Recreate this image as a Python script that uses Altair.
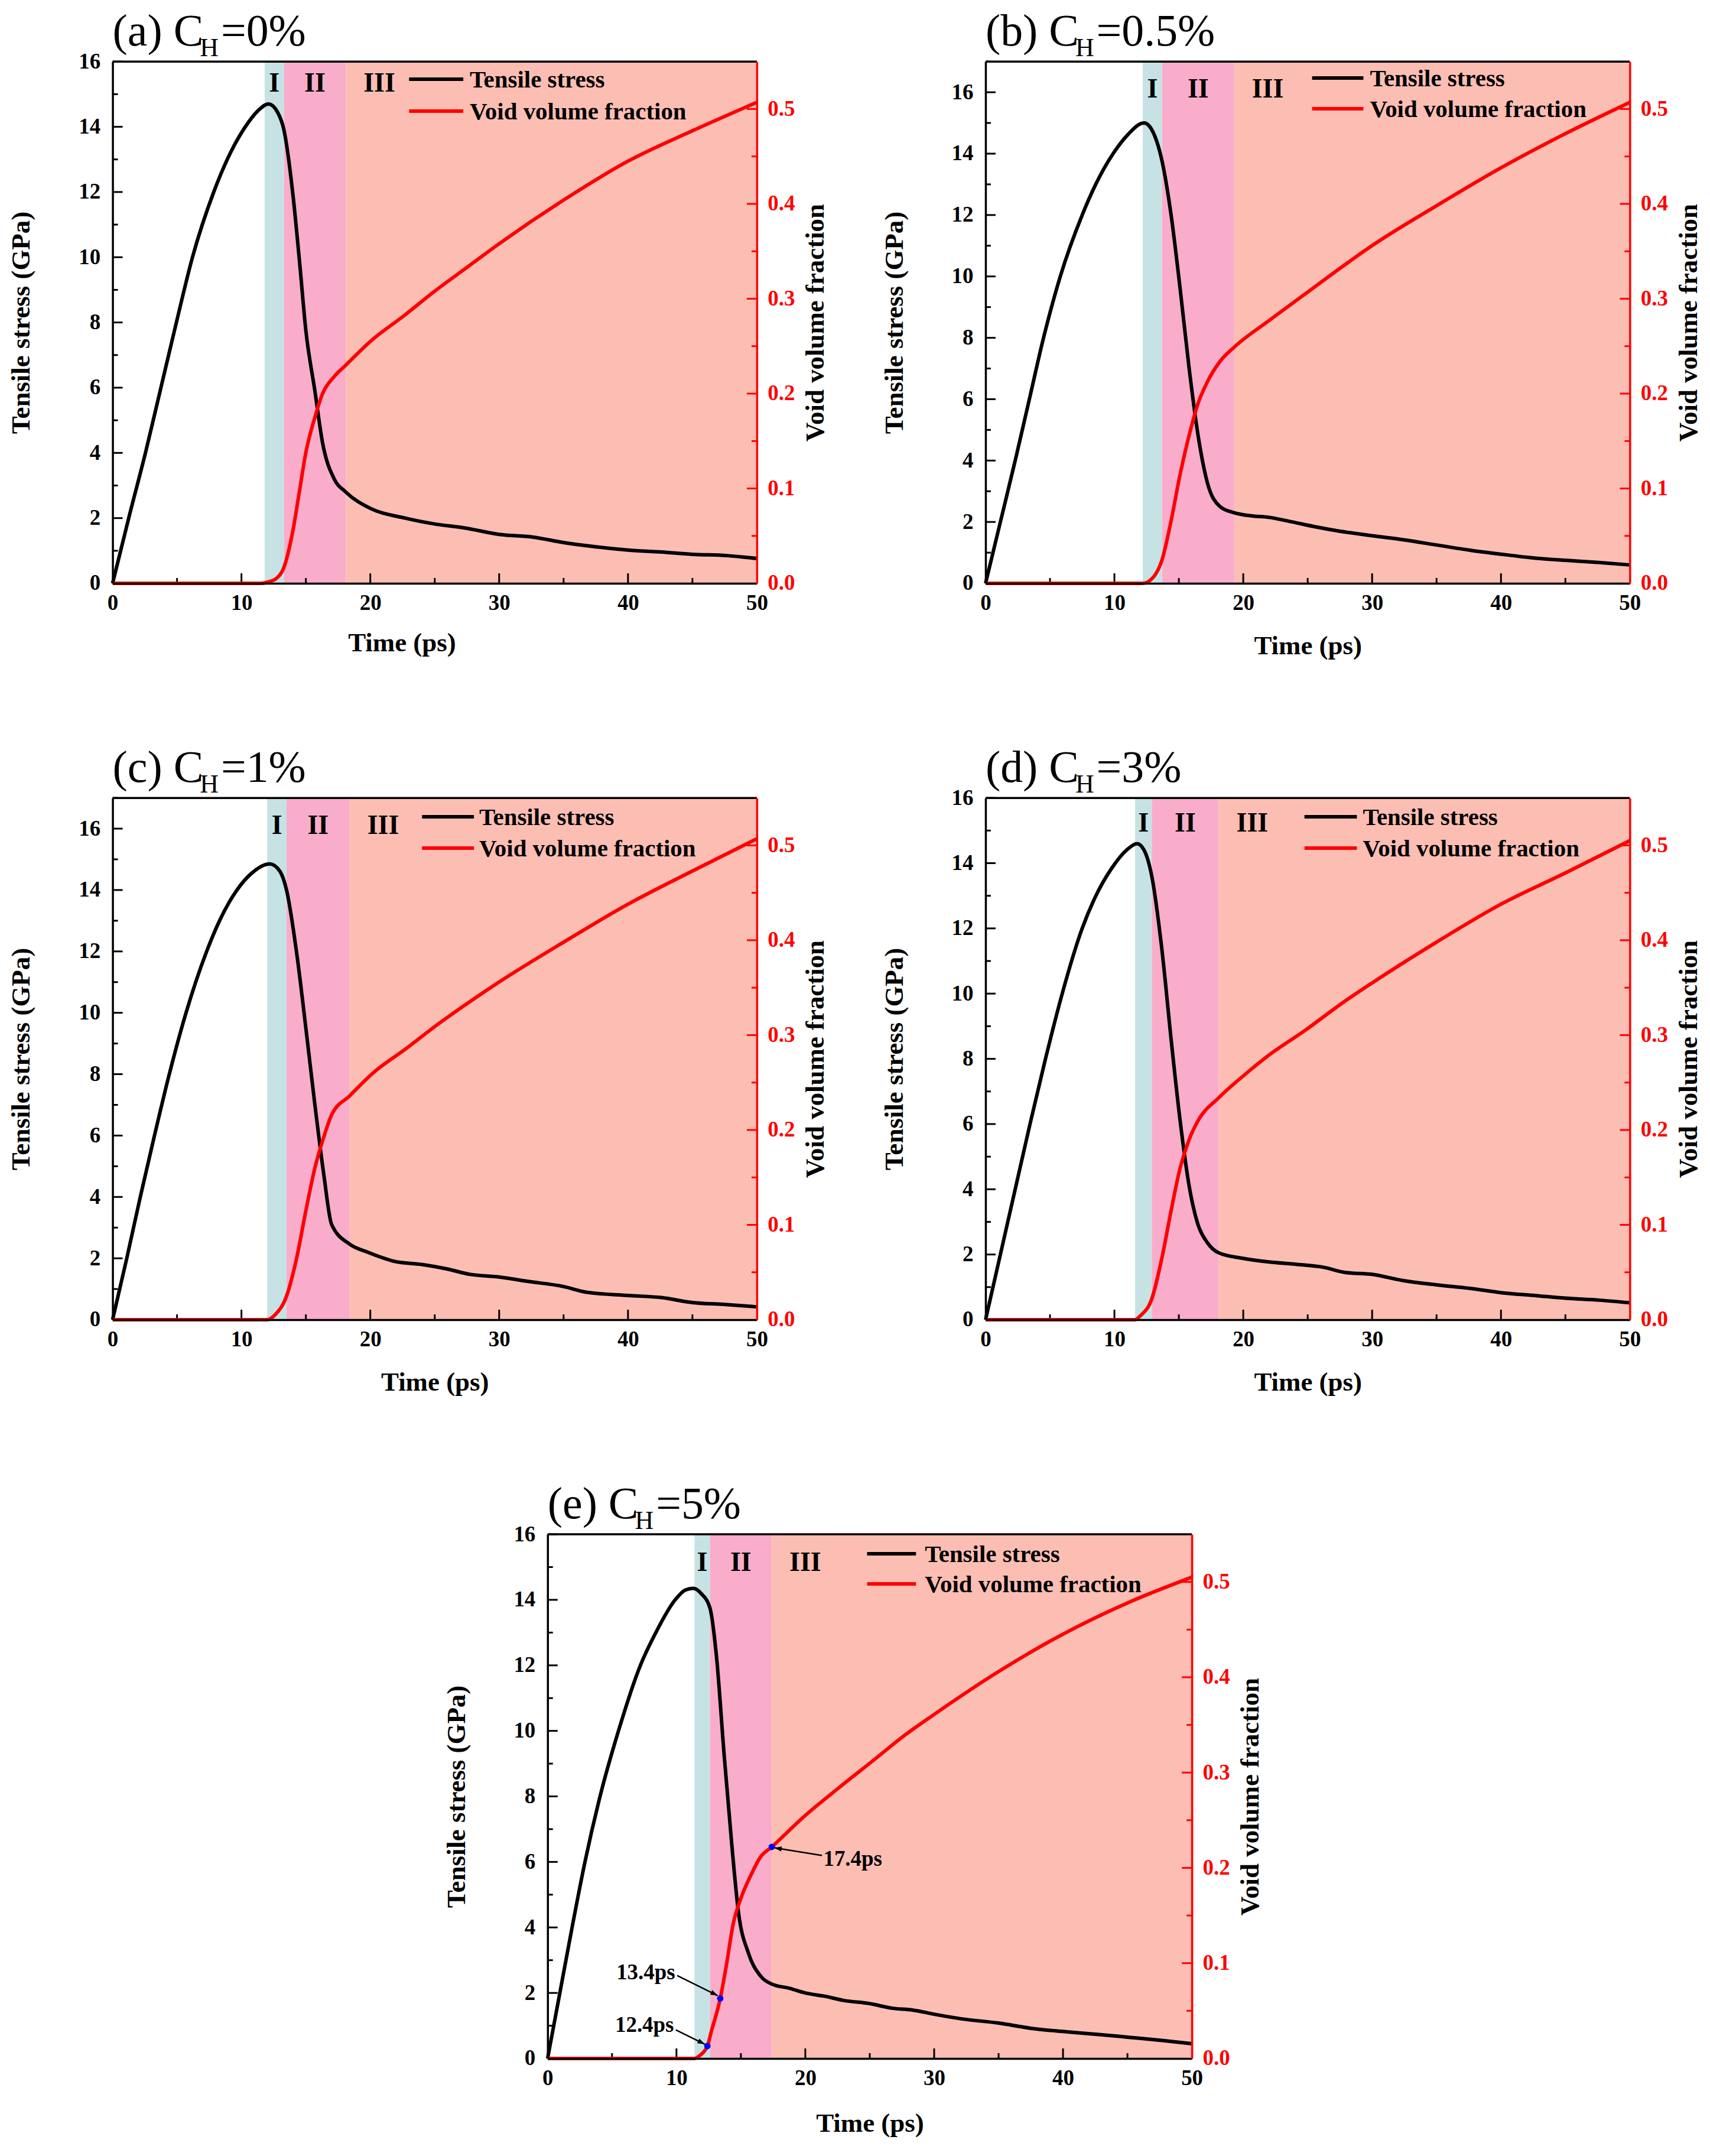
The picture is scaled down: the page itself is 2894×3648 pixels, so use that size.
import math
import altair as alt
import pandas as pd

FONT = "Liberation Serif"

# ---------------- data ----------------
letters = ["a", "b", "c", "d", "e"]
conc = ["0", "0.5", "1", "3", "5"]

# stage boundaries (ps): start of I, start of II, start of III
bands = {
    "a": [11.8, 13.3, 18.1],
    "b": [12.2, 13.7, 19.3],
    "c": [12.0, 13.5, 18.4],
    "d": [11.6, 12.9, 18.1],
    "e": [11.4, 12.6, 17.4],
}

a_t = [0, 1.25, 2.55, 3.75, 4.95, 6.2, 7.85, 8.9, 10.3, 11.3, 12.1, 12.8, 13.3, 14.0, 14.5, 15.0, 15.7, 16.3, 17.2, 18.1, 20, 22.7, 25, 27.3, 30, 32.6, 35, 37.5, 40, 42.6, 45, 47.7, 50]
a_s = [0, 2, 4, 6, 8, 10, 12, 13, 14, 14.5, 14.7, 14.45, 13.9, 11.9, 9.9, 7.75, 5.9, 4.3, 3.2, 2.8, 2.3, 2.0, 1.82, 1.7, 1.5, 1.42, 1.25, 1.12, 1.02, 0.96, 0.89, 0.85, 0.76]
a_vt = [0, 11.5, 12.2, 12.7, 13.3, 14.0, 14.5, 15.0, 15.7, 16.3, 17.2, 18.1, 20, 22.7, 25, 27.3, 30, 35, 40, 45, 50]
a_v = [0, 0, 0.002, 0.005, 0.017, 0.056, 0.097, 0.138, 0.175, 0.2, 0.218, 0.23, 0.255, 0.283, 0.308, 0.331, 0.358, 0.404, 0.445, 0.477, 0.507]

b_t = [0, 1.15, 2.3, 3.4, 4.5, 5.8, 7.5, 8.55, 9.9, 11.0, 12.3, 13.0, 13.7, 14.4, 15.1, 15.8, 16.5, 17.2, 18.2, 19.3, 20.6, 22, 23.8, 25.5, 27.2, 30, 32.4, 35, 37.6, 40, 42.7, 45, 47.6, 50]
b_s = [0, 2, 4, 6, 8, 10, 12, 13, 14, 14.6, 15.0, 14.7, 13.75, 12.0, 9.6, 7.0, 4.8, 3.3, 2.5, 2.3, 2.2, 2.15, 2.0, 1.85, 1.72, 1.55, 1.42, 1.25, 1.08, 0.95, 0.82, 0.75, 0.68, 0.6]
b_vt = [0, 12.2, 13.05, 13.7, 14.4, 15.1, 15.8, 16.5, 17.2, 18.2, 19.3, 22, 24.8, 27.6, 30, 35, 40, 45, 50]
b_v = [0, 0, 0.007, 0.025, 0.066, 0.115, 0.156, 0.19, 0.212, 0.234, 0.249, 0.277, 0.305, 0.333, 0.356, 0.398, 0.438, 0.474, 0.507]

c_t = [0, 1.1, 2.15, 3.25, 4.4, 5.7, 7.3, 8.3, 9.65, 10.8, 12.2, 13.0, 13.5, 14.3, 15.0, 15.7, 16.4, 17.0, 18.4, 19.8, 21.9, 24, 26, 27.7, 30, 32.2, 35, 36.7, 40, 42.6, 45, 47.4, 50]
c_s = [0, 2, 4, 6, 8, 10, 12, 13, 14, 14.55, 14.85, 14.6, 14.0, 11.9, 9.5, 7.0, 4.7, 3.1, 2.46, 2.2, 1.9, 1.8, 1.65, 1.48, 1.39, 1.25, 1.08, 0.9, 0.79, 0.72, 0.56, 0.5, 0.42]
c_vt = [0, 12.0, 12.6, 13.5, 14.3, 15.0, 15.7, 16.4, 17.0, 18.4, 20.2, 22.7, 25.3, 27.7, 30, 35, 40, 45, 50]
c_v = [0, 0, 0.005, 0.025, 0.066, 0.115, 0.16, 0.193, 0.216, 0.236, 0.26, 0.285, 0.312, 0.335, 0.356, 0.398, 0.438, 0.473, 0.507]

d_t = [0, 1.15, 2.3, 3.45, 4.65, 5.95, 7.5, 8.5, 9.8, 11.0, 11.75, 12.3, 12.9, 13.7, 14.4, 15.1, 15.8, 16.5, 17.2, 18.1, 20, 22, 24.1, 26.2, 27.9, 30, 32.4, 35, 37.6, 40, 42.7, 45, 47.6, 50]
d_s = [0, 2, 4, 6, 8, 10, 12, 12.95, 13.85, 14.42, 14.6, 14.4, 13.6, 11.3, 8.6, 6.1, 4.1, 2.9, 2.37, 2.05, 1.88, 1.77, 1.7, 1.61, 1.45, 1.39, 1.2, 1.07, 0.96, 0.83, 0.74, 0.66, 0.6, 0.52]
d_vt = [0, 11.6, 12.0, 12.9, 13.7, 14.4, 15.1, 15.8, 16.5, 18.1, 20, 22, 24.8, 27.6, 30, 35, 40, 45, 50]
d_v = [0, 0, 0.004, 0.022, 0.066, 0.115, 0.16, 0.19, 0.21, 0.234, 0.257, 0.279, 0.305, 0.333, 0.355, 0.398, 0.438, 0.471, 0.505]

e_t = [0, 0.95, 1.9, 2.9, 4.07, 5.5, 7.2, 8.4, 9.9, 10.7, 11.3, 11.9, 12.6, 13.1, 13.7, 14.3, 14.8, 15.6, 16.5, 17.4, 18.8, 20, 21.5, 23, 24.9, 26.8, 28.3, 30, 32.1, 35, 37.5, 40.1, 42.8, 45, 47.7, 50]
e_s = [0, 2, 4, 6, 8, 10, 12, 13, 14, 14.3, 14.35, 14.2, 13.75, 12.3, 9.27, 6.5, 4.5, 3.2, 2.53, 2.27, 2.14, 2.0, 1.9, 1.77, 1.68, 1.53, 1.48, 1.35, 1.21, 1.08, 0.92, 0.82, 0.73, 0.65, 0.55, 0.45]
e_vt = [0, 11.4, 11.8, 12.4, 12.7, 13.4, 13.9, 14.4, 15.0, 15.8, 16.5, 17.4, 20, 22.6, 25.3, 27.6, 30, 35, 40.1, 45, 50]
e_v = [0, 0, 0.003, 0.013, 0.028, 0.063, 0.10, 0.141, 0.168, 0.193, 0.211, 0.222, 0.255, 0.284, 0.313, 0.338, 0.361, 0.406, 0.446, 0.478, 0.505]

# marked points of panel (e)
mark_t = [12.4, 13.4, 17.4]
mark_v = [0.013, 0.063, 0.222]
mark_lbl = ["12.4ps", "13.4ps", "17.4ps"]
arrow_t0 = [9.95, 10.05, 21.3]
arrow_v0 = [0.030, 0.087, 0.213]
arrow_t1 = [12.2, 13.2, 17.6]
arrow_v1 = [0.015, 0.066, 0.221]
lbl_t = [9.8, 9.9, 21.4]
lbl_v = [0.028, 0.083, 0.202]
lbl_align = ["right", "right", "left"]

series = {
    "a": (a_t, a_s, a_vt, a_v),
    "b": (b_t, b_s, b_vt, b_v),
    "c": (c_t, c_s, c_vt, c_v),
    "d": (d_t, d_s, d_vt, d_v),
    "e": (e_t, e_s, e_vt, e_v),
}
ymax = {"a": 16, "b": 17, "c": 17, "d": 16, "e": 16}

# ---------------- layout / style ----------------
W = 1093
HEIGHT = {"a": 885, "b": 885, "c": 885, "d": 885, "e": 889}
LEGEND = {"a": (503, 595, 606, 30, 84), "b": (554, 641, 652, 28, 80),
          "c": (525, 613, 622, 32, 85), "d": (541, 630, 640, 32, 85),
          "e": (542, 625, 640, 33, 84)}
ROMAN_Y = {"a": 51, "b": 61, "c": 61, "d": 57, "e": 62}
XTITLE_Y = {"a": 115, "b": 120, "c": 120, "d": 120, "e": 124}
XTITLE_DX = {"a": -56, "b": 0, "c": 0, "d": 0, "e": 0}
BAND_COLORS = ["#c6e2e4", "#f9adca", "#fcbeb3"]
TITLE_SIZE = 76
SUB_SIZE = 44
TITLE_BASE = -27
TIMES = {"(": 333, ")": 333, "a": 444, "b": 500, "c": 444, "d": 500, "e": 444,
         " ": 250, "C": 667, "H": 722, "=": 564, ".": 250, "%": 833}
for dgt in "0123456789":
    TIMES[dgt] = 500


def tw(s, size):
    return sum(TIMES[ch] for ch in s) * size / 1000.0


one = pd.DataFrame({"k": [0]})
xs = alt.Scale(domain=[0, 50], nice=False, zero=False)
yr = alt.Scale(domain=[0, 0.55], nice=False, zero=False)


def txt(s, x, y, size, weight="bold", align="left", color="black"):
    return alt.Chart(one).mark_text(
        font=FONT, fontSize=size, fontWeight=weight, align=align,
        baseline="alphabetic", color=color
    ).encode(x=alt.value(x), y=alt.value(y), text=alt.value(s))


def panel(i):
    key = letters[i]
    H = HEIGHT[key]
    T, S, VT, V = series[key]
    b0, b1, b2 = bands[key]
    ys = alt.Scale(domain=[0, ymax[key]], nice=False, zero=False)

    xaxis = alt.Axis(
        values=[0, 10, 20, 30, 40, 50], format="d", ticks=False,
        labelFont=FONT, labelFontSize=37, labelFontWeight="bold", labelColor="black",
        labelPadding=16, labelFlush=False, labelOverlap=False,
        title="Time (ps)", titleFont=FONT, titleFontSize=45, titleFontWeight="bold",
        titleColor="black", titleBaseline="alphabetic", titleAlign="center",
        titleX=W / 2 + XTITLE_DX[key], titleY=XTITLE_Y[key],
        domainColor="black", domainWidth=3.5, grid=False, zindex=1)
    yaxis_l = alt.Axis(
        values=list(range(0, 17, 2)), format="d", ticks=False,
        labelFont=FONT, labelFontSize=37, labelFontWeight="bold", labelColor="black",
        labelPadding=21, labelFlush=False, labelOverlap=False,
        title="Tensile stress (GPa)", titleFont=FONT, titleFontSize=45,
        titleFontWeight="bold", titleColor="black", titleAngle=270,
        titleBaseline="alphabetic", titleAlign="center", titleX=-141, titleY=H / 2,
        domainColor="black", domainWidth=3.5, grid=False, zindex=1)
    yaxis_r = alt.Axis(
        orient="right", values=[0, 0.1, 0.2, 0.3, 0.4, 0.5], format=".1f",
        ticks=False,
        labelFont=FONT, labelFontSize=37, labelFontWeight="bold", labelColor="red",
        labelPadding=18, labelFlush=False, labelOverlap=False,
        title="Void volume fraction", titleFont=FONT, titleFontSize=45,
        titleFontWeight="bold", titleColor="black", titleAngle=270,
        titleBaseline="alphabetic", titleAlign="center", titleX=113, titleY=H / 2,
        domainColor="red", domainWidth=3.5, grid=False, zindex=1)

    def X(f):
        return alt.X(f, scale=xs, axis=xaxis)

    def YL(f):
        return alt.Y(f, scale=ys, axis=yaxis_l)

    def YR(f):
        return alt.Y(f, scale=yr, axis=yaxis_r)

    band_df = pd.DataFrame({"start": [b0, b1, b2], "end": [b1, b2, 50], "color": BAND_COLORS})
    band_layer = alt.Chart(band_df).mark_rect().encode(
        x=X("start:Q"), x2="end:Q",
        y=alt.value(0), y2=alt.value(H), color=alt.Color("color:N", scale=None))

    top_rule = alt.Chart(one).mark_rule(color="black", strokeWidth=3.5).encode(
        x=alt.value(0), x2=alt.value(W), y=alt.value(0))

    def xticks(vals, ln):
        return alt.Chart(pd.DataFrame({"t": vals})).mark_rule(color="black", strokeWidth=3).encode(
            x=X("t:Q"), y=alt.value(H), y2=alt.value(H - ln))

    def lticks(vals, ln):
        return alt.Chart(pd.DataFrame({"v": vals})).mark_rule(color="black", strokeWidth=3).encode(
            y=YL("v:Q"), x=alt.value(0), x2=alt.value(ln))

    def rticks(vals, ln):
        return alt.Chart(pd.DataFrame({"v": vals})).mark_rule(color="red", strokeWidth=3).encode(
            y=YR("v:Q"), x=alt.value(W - ln), x2=alt.value(W))

    stress = alt.Chart(pd.DataFrame({"t": T, "s": S})).mark_line(
        color="black", strokeWidth=6, interpolate="monotone").encode(
        x=X("t:Q"), y=YL("s:Q"))
    left_group = alt.layer(
        stress,
        lticks([v for v in range(2, 17, 2)], 17),
        lticks([v for v in range(1, ymax[key] + 1, 2)], 9))

    vvf = alt.Chart(pd.DataFrame({"t": VT, "v": V})).mark_line(
        color="red", strokeWidth=6, interpolate="monotone").encode(
        x=X("t:Q"), y=YR("v:Q"))
    right_layers = [vvf, rticks([0.1, 0.2, 0.3, 0.4, 0.5], 17),
                    rticks([0.05, 0.15, 0.25, 0.35, 0.45], 9)]

    if key == "e":
        angs = []
        for x0, v0, x1, v1 in zip(arrow_t0, arrow_v0, arrow_t1, arrow_v1):
            dx = (x1 - x0) * W / 50.0
            dy = -(v1 - v0) * H / 0.55
            angs.append(math.degrees(math.atan2(dx, -dy)) % 360)
        arr_df = pd.DataFrame({"x0": arrow_t0, "y0": arrow_v0, "x1": arrow_t1,
                               "y1": arrow_v1, "ang": angs})
        shafts = alt.Chart(arr_df).mark_rule(color="black", strokeWidth=2.5).encode(
            x=X("x0:Q"), x2="x1:Q", y=YR("y0:Q"), y2="y1:Q")
        heads = alt.Chart(arr_df).mark_point(
            shape="M0,0L0.38,1.1L-0.38,1.1Z", filled=True, color="black",
            opacity=1, size=500).encode(
            x=X("x1:Q"), y=YR("y1:Q"), angle=alt.Angle("ang:Q", scale=None))
        dots = alt.Chart(pd.DataFrame({"t": mark_t, "v": mark_v})).mark_circle(
            color="#0000ff", opacity=1, size=120).encode(x=X("t:Q"), y=YR("v:Q"))
        right_layers += [shafts, heads, dots]
        for lt, lv, lb, al in zip(lbl_t, lbl_v, mark_lbl, lbl_align):
            right_layers.append(
                alt.Chart(pd.DataFrame({"t": [lt], "v": [lv]})).mark_text(
                    font=FONT, fontSize=37, fontWeight="bold", align=al,
                    baseline="alphabetic", color="black", text=lb).encode(
                    x=X("t:Q"), y=YR("v:Q")))
    right_group = alt.layer(*right_layers)

    roman_df = pd.DataFrame({"t": [(b0 + b1) / 2, (b1 + b2) / 2, b2 + 2.6],
                             "lab": ["I", "II", "III"]})
    roman = alt.Chart(roman_df).mark_text(
        font=FONT, fontSize=46, fontWeight="bold", align="center",
        baseline="alphabetic", color="black").encode(
        x=X("t:Q"), y=alt.value(ROMAN_Y[key]), text="lab:N")

    l0, l1, tx, ly1, ly2 = LEGEND[key]
    leg = [
        alt.Chart(one).mark_rule(color="black", strokeWidth=6).encode(
            x=alt.value(l0), x2=alt.value(l1), y=alt.value(ly1)),
        alt.Chart(one).mark_rule(color="red", strokeWidth=6).encode(
            x=alt.value(l0), x2=alt.value(l1), y=alt.value(ly2)),
        txt("Tensile stress", tx, ly1 + 14, 41),
        txt("Void volume fraction", tx, ly2 + 14, 41),
    ]

    p1 = "(%s) C" % key
    p3 = "=%s%%" % conc[i]
    w1 = tw(p1, TITLE_SIZE) - 6
    w2 = tw("H", SUB_SIZE) + 4
    title = [
        txt(p1, 0, TITLE_BASE, TITLE_SIZE, weight="normal"),
        txt("H", w1, TITLE_BASE + 18, SUB_SIZE, weight="normal"),
        txt(p3, w1 + w2, TITLE_BASE, TITLE_SIZE, weight="normal"),
    ]

    layers = [band_layer, top_rule, xticks([10, 20, 30, 40], 17),
              xticks([5, 15, 25, 35, 45], 9), left_group, right_group, roman] + leg + title
    return alt.layer(*layers).resolve_scale(y="independent").properties(width=W, height=H)


pa, pb, pc, pd_, pe = [panel(i) for i in range(5)]

spacer = alt.Chart(one).mark_text(opacity=0).encode(
    x=alt.value(0), y=alt.value(0), text=alt.value(" ")
).properties(width=560, height=1,
             view=alt.ViewBackground(stroke="white", fill="white", strokeWidth=0))

row1 = alt.hconcat(pa, pb, spacing=87)
row2 = alt.hconcat(pc, pd_, spacing=87)
row3 = alt.hconcat(spacer, pe, spacing=0)

chart = alt.vconcat(row1, row2, row3, spacing=145).properties(
    padding={"left": 5, "top": 3, "right": 5, "bottom": 5}
).configure_view(stroke="transparent", strokeWidth=0).configure(background="white")

chart.save("out.html", embed_options={"renderer": "svg", "actions": False})
